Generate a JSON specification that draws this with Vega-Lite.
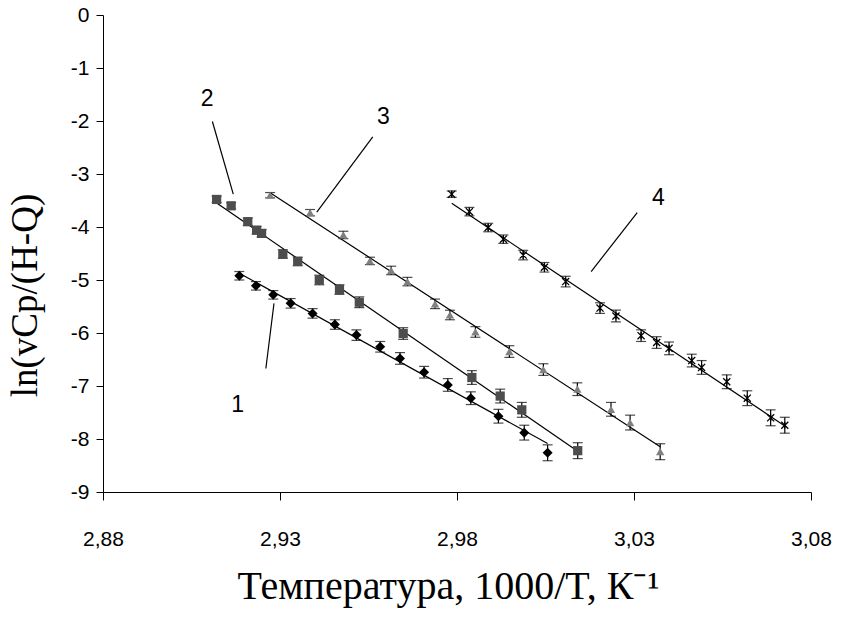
{
  "$schema": "https://vega.github.io/schema/vega-lite/v6.json",
  "width": 708,
  "height": 477,
  "autosize": {"type": "none"},
  "padding": {"left": 103, "top": 15, "right": 30, "bottom": 126},
  "background": "white",
  "config": {
    "view": {"stroke": null},
    "font": "Liberation Sans",
    "axis": {"labelFontSize": 21, "labelFont": "Liberation Sans", "labelColor": "black", "grid": false, "domainColor": "black", "tickColor": "black", "titleColor": "black", "titleFontWeight": "normal", "titleFont": "Liberation Serif", "labelFlush": false, "labelOverlap": false}
  },
  "datasets": {
    "pts": [
      {"s": "1", "x": 2.9185, "y": -4.92, "e": 0.08},
      {"s": "1", "x": 2.9232, "y": -5.11, "e": 0.08},
      {"s": "1", "x": 2.9281, "y": -5.28, "e": 0.08},
      {"s": "1", "x": 2.9330, "y": -5.44, "e": 0.09},
      {"s": "1", "x": 2.9392, "y": -5.63, "e": 0.09},
      {"s": "1", "x": 2.9455, "y": -5.84, "e": 0.09},
      {"s": "1", "x": 2.9516, "y": -6.04, "e": 0.10},
      {"s": "1", "x": 2.9583, "y": -6.26, "e": 0.10},
      {"s": "1", "x": 2.9639, "y": -6.48, "e": 0.11},
      {"s": "1", "x": 2.9707, "y": -6.74, "e": 0.11},
      {"s": "1", "x": 2.9774, "y": -6.98, "e": 0.12},
      {"s": "1", "x": 2.9839, "y": -7.23, "e": 0.12},
      {"s": "1", "x": 2.9917, "y": -7.57, "e": 0.13},
      {"s": "1", "x": 2.9990, "y": -7.88, "e": 0.14},
      {"s": "1", "x": 3.0056, "y": -8.26, "e": 0.15},
      {"s": "2", "x": 2.9121, "y": -3.48, "e": 0.06},
      {"s": "2", "x": 2.9162, "y": -3.60, "e": 0.06},
      {"s": "2", "x": 2.9209, "y": -3.90, "e": 0.07},
      {"s": "2", "x": 2.9234, "y": -4.06, "e": 0.07},
      {"s": "2", "x": 2.9248, "y": -4.12, "e": 0.07},
      {"s": "2", "x": 2.9308, "y": -4.51, "e": 0.08},
      {"s": "2", "x": 2.9350, "y": -4.65, "e": 0.08},
      {"s": "2", "x": 2.9411, "y": -5.00, "e": 0.09},
      {"s": "2", "x": 2.9468, "y": -5.18, "e": 0.09},
      {"s": "2", "x": 2.9524, "y": -5.42, "e": 0.10},
      {"s": "2", "x": 2.9648, "y": -6.01, "e": 0.11},
      {"s": "2", "x": 2.9842, "y": -6.84, "e": 0.13},
      {"s": "2", "x": 2.9922, "y": -7.19, "e": 0.13},
      {"s": "2", "x": 2.9983, "y": -7.45, "e": 0.14},
      {"s": "2", "x": 3.0141, "y": -8.22, "e": 0.15},
      {"s": "3", "x": 2.9272, "y": -3.40, "e": 0.05},
      {"s": "3", "x": 2.9385, "y": -3.73, "e": 0.06},
      {"s": "3", "x": 2.9479, "y": -4.15, "e": 0.07},
      {"s": "3", "x": 2.9554, "y": -4.64, "e": 0.07},
      {"s": "3", "x": 2.9614, "y": -4.82, "e": 0.08},
      {"s": "3", "x": 2.9660, "y": -5.03, "e": 0.08},
      {"s": "3", "x": 2.9738, "y": -5.45, "e": 0.09},
      {"s": "3", "x": 2.9780, "y": -5.66, "e": 0.09},
      {"s": "3", "x": 2.9852, "y": -5.98, "e": 0.10},
      {"s": "3", "x": 2.9948, "y": -6.35, "e": 0.11},
      {"s": "3", "x": 3.0044, "y": -6.69, "e": 0.11},
      {"s": "3", "x": 3.0140, "y": -7.06, "e": 0.12},
      {"s": "3", "x": 3.0235, "y": -7.44, "e": 0.13},
      {"s": "3", "x": 3.0289, "y": -7.69, "e": 0.14},
      {"s": "3", "x": 3.0374, "y": -8.24, "e": 0.15},
      {"s": "4", "x": 2.9785, "y": -3.38, "e": 0.06},
      {"s": "4", "x": 2.9835, "y": -3.71, "e": 0.08},
      {"s": "4", "x": 2.9888, "y": -4.01, "e": 0.08},
      {"s": "4", "x": 2.9931, "y": -4.23, "e": 0.08},
      {"s": "4", "x": 2.9987, "y": -4.53, "e": 0.09},
      {"s": "4", "x": 3.0047, "y": -4.76, "e": 0.09},
      {"s": "4", "x": 3.0107, "y": -5.03, "e": 0.10},
      {"s": "4", "x": 3.0204, "y": -5.53, "e": 0.10},
      {"s": "4", "x": 3.0249, "y": -5.68, "e": 0.11},
      {"s": "4", "x": 3.0320, "y": -6.05, "e": 0.11},
      {"s": "4", "x": 3.0364, "y": -6.18, "e": 0.11},
      {"s": "4", "x": 3.0399, "y": -6.29, "e": 0.12},
      {"s": "4", "x": 3.0463, "y": -6.52, "e": 0.12},
      {"s": "4", "x": 3.0491, "y": -6.65, "e": 0.13},
      {"s": "4", "x": 3.0562, "y": -6.92, "e": 0.13},
      {"s": "4", "x": 3.0620, "y": -7.23, "e": 0.14},
      {"s": "4", "x": 3.0686, "y": -7.60, "e": 0.15},
      {"s": "4", "x": 3.0726, "y": -7.74, "e": 0.15}
    ],
    "leaders": [
      {"x": 2.9283, "y": -5.44, "x2": 2.9260, "y2": -6.67},
      {"x": 2.9109, "y": -2.01, "x2": 2.9168, "y2": -3.38},
      {"x": 2.9562, "y": -2.30, "x2": 2.9404, "y2": -3.72},
      {"x": 3.0309, "y": -3.73, "x2": 3.0179, "y2": -4.84}
    ],
    "labels": [
      {"t": "1", "x": 2.9180, "y": -7.36},
      {"t": "2", "x": 2.9094, "y": -1.58},
      {"t": "3", "x": 2.9592, "y": -1.92},
      {"t": "4", "x": 3.0369, "y": -3.46}
    ]
  },
  "layer": [
    {
      "data": {"name": "pts"},
      "transform": [{"regression": "y", "on": "x", "groupby": ["s"]}],
      "mark": {"type": "line", "color": "black", "strokeWidth": 1.2},
      "encoding": {
        "x": {
          "field": "x", "type": "quantitative",
          "title": "Температура, 1000/T, К⁻¹",
          "scale": {"domain": [2.88, 3.08], "nice": false, "zero": false},
          "axis": {
            "values": [2.88, 2.93, 2.98, 3.03, 3.08],
            "labelExpr": "replace(format(datum.value, '.2f'), '.', ',')",
            "tickSize": 8, "labelPadding": 28, "labelFontSize": 21,
            "titleFontSize": 40,
            "titleX": 345, "titleY": 106, "titleBaseline": "alphabetic",
            "titleAlign": "center"
          }
        },
        "y": {
          "field": "y", "type": "quantitative",
          "title": "ln(vCp/(H-Q)",
          "scale": {"domain": [-9, 0], "nice": false, "zero": false},
          "axis": {
            "values": [-9, -8, -7, -6, -5, -4, -3, -2, -1, 0],
            "labelExpr": "datum.value",
            "tickSize": 7, "labelPadding": 7, "labelFontSize": 21,
            "titleFontSize": 37,
            "titleX": -78, "titleY": 280, "titleAngle": -90,
            "titleAlign": "center", "titleBaseline": "middle"
          }
        },
        "detail": {"field": "s"}
      }
    },
    {
      "data": {"name": "pts"},
      "mark": {"type": "errorbar", "ticks": {"size": 10, "color": "black"}, "color": "black", "thickness": 1.2},
      "encoding": {
        "x": {"field": "x", "type": "quantitative", "title": "Температура, 1000/T, К⁻¹"},
        "y": {"field": "y", "type": "quantitative", "title": "ln(vCp/(H-Q)"},
        "yError": {"field": "e"}
      }
    },
    {
      "data": {"name": "pts"},
      "transform": [{"filter": "datum.s != '4'"}],
      "mark": {"type": "point", "filled": true, "opacity": 1, "strokeWidth": 0},
      "encoding": {
        "x": {"field": "x", "type": "quantitative", "title": "Температура, 1000/T, К⁻¹"},
        "y": {"field": "y", "type": "quantitative", "title": "ln(vCp/(H-Q)"},
        "color": {"field": "s", "type": "nominal", "scale": {"domain": ["1", "2", "3"], "range": ["#000000", "#4d4d4d", "#808080"]}, "legend": null},
        "shape": {"field": "s", "type": "nominal", "scale": {"domain": ["1", "2", "3"], "range": ["diamond", "square", "triangle-up"]}, "legend": null},
        "size": {"field": "s", "type": "nominal", "scale": {"domain": ["1", "2", "3"], "range": [100, 70, 95]}, "legend": null}
      }
    },
    {
      "data": {"name": "pts"},
      "transform": [{"filter": "datum.s == '4'"}],
      "mark": {"type": "point", "filled": false, "shape": "M-1,-1L1,1M-1,1L1,-1M0,-1L0,1", "size": 50, "stroke": "black", "strokeWidth": 1.3, "opacity": 1},
      "encoding": {
        "x": {"field": "x", "type": "quantitative", "title": "Температура, 1000/T, К⁻¹"},
        "y": {"field": "y", "type": "quantitative", "title": "ln(vCp/(H-Q)"}
      }
    },
    {
      "data": {"name": "leaders"},
      "mark": {"type": "rule", "color": "black", "strokeWidth": 1.2},
      "encoding": {
        "x": {"field": "x", "type": "quantitative", "title": "Температура, 1000/T, К⁻¹"},
        "y": {"field": "y", "type": "quantitative", "title": "ln(vCp/(H-Q)"},
        "x2": {"field": "x2"},
        "y2": {"field": "y2"}
      }
    },
    {
      "data": {"name": "labels"},
      "mark": {"type": "text", "font": "Liberation Sans", "fontSize": 23, "color": "black", "align": "center", "baseline": "middle"},
      "encoding": {
        "x": {"field": "x", "type": "quantitative", "title": "Температура, 1000/T, К⁻¹"},
        "y": {"field": "y", "type": "quantitative", "title": "ln(vCp/(H-Q)"},
        "text": {"field": "t"}
      }
    }
  ]
}
